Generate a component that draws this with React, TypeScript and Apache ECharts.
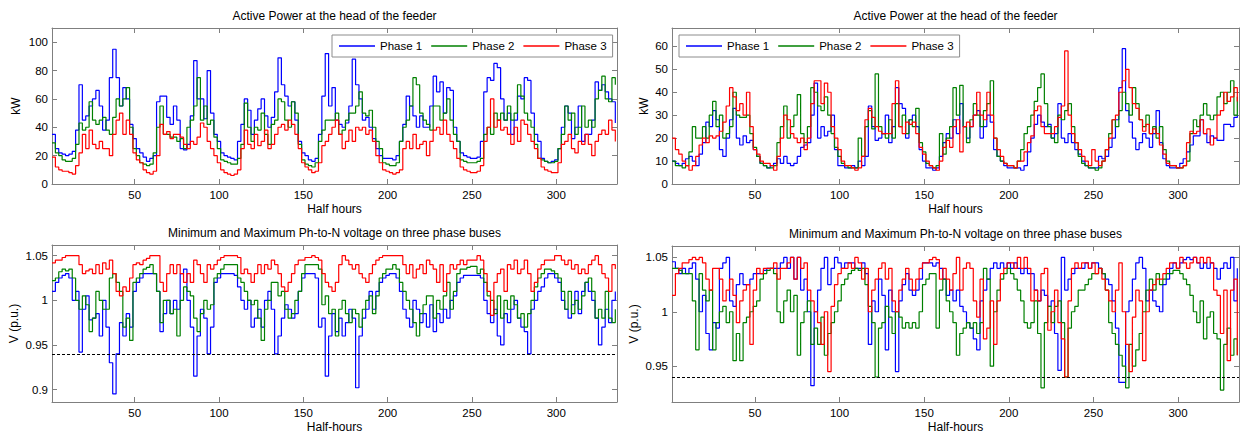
import React, { useEffect, useRef } from "react";
import * as echarts from "echarts";

// half-hour index of each sample (every second half hour)
const HALF_HOURS: number[] = Array.from({ length: 168 }, (_, i) => 2 * i + 1);

// ---- Left feeder, active power (kW)
const PL_P1 = [
  35, 25, 22, 21, 20, 21, 23, 38, 70, 45, 48, 55, 60, 66, 55, 38, 45, 75, 95, 75, 55, 68, 60, 42, 32,
  25, 22, 19, 16, 18, 20, 58, 62, 62, 47, 42, 55, 45, 25, 24, 28, 48, 87, 60, 60, 46, 80, 50, 35, 30,
  22, 20, 19, 18, 17, 30, 42, 60, 52, 35, 45, 53, 60, 48, 40, 47, 65, 89, 70, 62, 55, 58, 45, 30, 22,
  20, 17, 16, 18, 35, 62, 92, 55, 68, 45, 42, 40, 43, 55, 88, 70, 60, 45, 47, 40, 32, 25, 20, 18, 18,
  18, 17, 20, 30, 42, 62, 55, 48, 40, 48, 40, 40, 55, 76, 65, 72, 50, 68, 66, 40, 30, 22, 20, 19, 18,
  18, 19, 30, 65, 75, 73, 85, 82, 60, 45, 50, 35, 45, 62, 60, 75, 73, 50, 35, 30, 18, 16, 15, 16, 17,
  25, 40, 55, 50, 32, 40, 55, 30, 35, 35, 45, 72, 66, 70, 65, 60, 58, 43,
];
const PL_P2 = [
  29, 22, 20, 17, 16, 16, 18, 28, 43, 38, 40, 58, 45, 42, 45, 47, 38, 35, 47, 60, 55, 60, 68, 40, 25,
  20, 15, 14, 13, 14, 22, 40, 55, 35, 35, 33, 33, 30, 32, 25, 40, 45, 55, 75, 45, 55, 42, 45, 33, 25,
  17, 16, 15, 14, 14, 18, 28, 57, 40, 30, 40, 38, 50, 35, 28, 42, 45, 60, 58, 45, 40, 58, 50, 28, 17,
  14, 13, 12, 15, 30, 38, 45, 45, 45, 50, 35, 38, 45, 50, 50, 55, 65, 50, 48, 52, 40, 30, 25, 15, 14,
  13, 13, 15, 30, 40, 45, 55, 75, 70, 50, 45, 42, 38, 55, 55, 45, 50, 60, 45, 35, 30, 17, 16, 15, 15,
  15, 16, 18, 35, 40, 35, 50, 45, 50, 45, 55, 45, 50, 70, 62, 50, 45, 40, 28, 18, 17, 16, 15, 15, 16,
  25, 35, 55, 45, 50, 35, 40, 55, 40, 45, 40, 60, 66, 76, 60, 58, 75, 70,
];
const PL_P3 = [
  19, 12, 10, 9, 9, 8, 7, 13, 22, 35, 25, 38, 28, 25, 30, 25, 25, 20, 35, 45, 50, 35, 45, 35, 22,
  17, 15, 10, 8, 7, 9, 20, 42, 35, 37, 32, 35, 35, 33, 28, 25, 30, 28, 33, 43, 40, 30, 25, 20, 15,
  10, 8, 7, 6, 7, 10, 25, 38, 28, 25, 35, 27, 30, 38, 25, 28, 35, 40, 42, 38, 45, 42, 35, 25, 15,
  12, 10, 8, 9, 15, 27, 30, 35, 40, 45, 35, 25, 30, 38, 30, 40, 38, 40, 35, 38, 30, 20, 15, 10, 9,
  8, 7, 8, 10, 25, 30, 25, 35, 25, 28, 30, 20, 30, 38, 40, 35, 45, 35, 30, 25, 18, 12, 10, 9, 8,
  8, 9, 13, 30, 40, 60, 40, 45, 38, 40, 35, 28, 40, 30, 45, 42, 35, 30, 25, 18, 12, 10, 9, 8, 8,
  15, 28, 30, 35, 25, 22, 30, 28, 35, 28, 20, 30, 35, 38, 35, 45, 38, 30,
];

// ---- Right feeder, active power (kW)
const PR_P1 = [
  10, 9, 8, 9, 11, 12, 10, 8, 13, 18, 27, 25, 32, 28, 15, 12, 20, 28, 33, 20, 17, 21, 18, 19, 15,
  12, 9, 8, 7, 8, 9, 11, 9, 12, 9, 8, 9, 12, 16, 17, 18, 30, 44, 20, 25, 21, 23, 30, 15, 8,
  8, 7, 7, 8, 7, 10, 8, 12, 34, 25, 19, 20, 22, 30, 18, 25, 42, 35, 33, 20, 28, 30, 25, 15, 10,
  7, 7, 6, 7, 12, 18, 22, 20, 28, 22, 35, 25, 20, 25, 30, 32, 20, 25, 30, 27, 15, 12, 10, 8, 7,
  7, 7, 7, 6, 8, 14, 20, 26, 30, 27, 25, 26, 20, 22, 35, 20, 18, 22, 18, 15, 13, 10, 8, 7, 7,
  7, 12, 11, 12, 16, 20, 28, 42, 59, 32, 27, 20, 15, 18, 22, 20, 16, 22, 32, 18, 11, 8, 7, 7, 7,
  9, 11, 14, 17, 21, 21, 28, 22, 18, 21, 20, 19, 19, 26, 26, 25, 29, 30,
];
const PR_P2 = [
  10, 8, 8, 7, 8, 14, 25, 20, 20, 25, 20, 30, 36, 25, 30, 20, 22, 25, 40, 30, 29, 29, 30, 22, 16,
  12, 9, 8, 7, 7, 8, 18, 25, 34, 20, 25, 30, 39, 22, 18, 25, 42, 40, 34, 32, 38, 30, 22, 16, 12,
  9, 8, 7, 7, 7, 20, 12, 25, 32, 24, 48, 25, 22, 20, 28, 20, 35, 25, 30, 22, 28, 25, 33, 18, 14,
  9, 8, 7, 8, 22, 13, 20, 25, 42, 30, 43, 25, 18, 28, 35, 30, 25, 32, 35, 45, 20, 12, 10, 9, 8,
  8, 7, 10, 15, 22, 25, 30, 36, 42, 48, 35, 25, 20, 18, 30, 28, 32, 35, 25, 18, 12, 9, 8, 7, 7,
  6, 7, 10, 15, 22, 28, 25, 32, 40, 35, 30, 42, 35, 28, 25, 30, 22, 25, 20, 25, 15, 10, 8, 8, 7,
  7, 8, 10, 22, 28, 25, 30, 35, 30, 28, 30, 38, 40, 35, 40, 45, 30, 38,
];
const PR_P3 = [
  20, 15, 13, 10, 8, 6, 8, 12, 17, 20, 18, 21, 20, 21, 23, 27, 34, 42, 38, 32, 35, 30, 40, 25, 15,
  13, 10, 9, 9, 8, 6, 12, 20, 30, 28, 22, 20, 18, 20, 15, 20, 35, 45, 45, 35, 44, 40, 25, 20, 15,
  10, 8, 8, 7, 6, 7, 12, 28, 33, 29, 25, 23, 22, 22, 22, 35, 45, 25, 22, 27, 26, 27, 22, 16, 13,
  10, 8, 7, 6, 10, 16, 19, 16, 25, 28, 14, 25, 27, 25, 30, 40, 30, 28, 40, 30, 20, 15, 12, 9, 8,
  8, 7, 10, 10, 14, 18, 21, 32, 34, 25, 22, 22, 22, 25, 29, 34, 58, 30, 22, 18, 15, 12, 10, 8, 15,
  10, 8, 10, 15, 20, 28, 30, 40, 45, 50, 42, 35, 33, 28, 23, 26, 22, 24, 22, 17, 13, 9, 8, 8, 7,
  7, 8, 18, 23, 22, 23, 28, 22, 24, 17, 20, 30, 32, 40, 36, 38, 42, 36,
];

// ---- Left feeder, min / max phase-to-neutral voltage (p.u.)
const VL_P1 = [
  1.01, 1.02, 1.025, 1.028, 1.03, 1.025, 1.0, 1.01, 0.942, 0.99, 1.005, 0.978, 0.98, 0.985, 0.96, 1.0, 0.97, 0.93, 0.895, 0.94, 0.975, 0.96, 0.985, 0.97, 1.01,
  1.02, 1.025, 1.03, 1.03, 1.03, 1.03, 1.01, 0.965, 0.985, 1.0, 0.985, 1.0, 0.99, 1.03, 1.035, 1.0, 0.97, 0.915, 0.96, 0.99, 0.98, 0.94, 0.97, 1.02, 1.025,
  1.03, 1.03, 1.03, 1.03, 1.028, 1.015, 1.0, 0.99, 1.0, 0.97, 0.98, 0.99, 0.97, 1.0, 1.01, 0.99, 0.94, 0.96, 0.98, 0.995, 0.99, 0.98, 0.985, 1.01, 1.025,
  1.03, 1.03, 1.03, 1.025, 0.97, 0.98, 0.915, 0.96, 0.985, 0.965, 0.98, 0.96, 0.975, 0.99, 0.98, 0.902, 0.96, 0.98, 0.99, 1.01, 0.99, 1.01, 1.02, 1.025, 1.028,
  1.03, 1.03, 1.025, 1.01, 0.99, 0.98, 0.97, 1.0, 0.99, 0.975, 0.985, 0.97, 0.995, 0.965, 0.985, 0.975, 0.99, 0.98, 1.0, 1.005, 1.02, 1.025, 1.028, 1.028, 1.028,
  1.028, 1.028, 1.025, 1.0, 0.985, 0.975, 0.99, 0.96, 0.95, 0.985, 0.975, 0.99, 1.0, 0.98, 0.97, 0.965, 0.94, 0.99, 1.0, 1.01, 1.015, 1.025, 1.03, 1.03, 1.025,
  1.02, 1.0, 0.99, 0.98, 0.995, 1.01, 0.985, 1.01, 1.02, 1.01, 1.0, 0.98, 0.95, 0.97, 0.99, 0.975, 1.0, 1.01,
];
const VL_P2 = [
  1.022, 1.025, 1.032, 1.035, 1.033, 1.035, 1.025, 1.0, 0.99, 1.005, 0.995, 0.965, 0.98, 1.01, 1.0, 0.99, 0.99, 1.025, 1.03, 1.02, 1.01, 0.97, 0.98, 0.955, 1.02,
  1.025, 1.03, 1.035, 1.037, 1.04, 1.03, 1.01, 0.975, 1.0, 1.0, 0.985, 0.99, 0.96, 1.0, 1.015, 1.01, 1.005, 0.98, 0.965, 0.985, 1.0, 0.99, 0.995, 1.025, 1.03,
  1.035, 1.04, 1.04, 1.04, 1.04, 1.025, 1.02, 1.01, 1.0, 0.995, 1.0, 0.98, 0.955, 0.99, 1.0, 1.02, 1.02, 1.005, 1.01, 0.99, 0.98, 0.985, 1.0, 1.01, 1.03,
  1.04, 1.04, 1.04, 1.04, 1.035, 0.995, 1.005, 0.985, 0.99, 0.96, 0.99, 1.0, 0.985, 0.975, 0.99, 0.985, 0.97, 0.99, 1.0, 1.005, 0.985, 1.005, 1.025, 1.03, 1.035,
  1.035, 1.04, 1.035, 1.02, 1.01, 1.0, 0.99, 0.975, 0.96, 0.985, 0.995, 1.005, 1.005, 0.98, 1.0, 0.99, 1.005, 1.02, 0.99, 1.01, 1.03, 1.035, 1.035, 1.037, 1.038,
  1.038, 1.03, 1.035, 1.02, 1.005, 1.0, 0.985, 1.005, 0.98, 1.0, 0.99, 1.005, 0.995, 0.98, 0.985, 0.97, 0.985, 1.0, 1.015, 1.025, 1.03, 1.035, 1.035, 1.033, 1.03,
  1.025, 1.01, 0.99, 1.01, 0.985, 1.0, 0.99, 1.005, 1.02, 1.025, 1.01, 0.98, 0.99, 0.98, 1.01, 0.98, 0.975, 0.99,
];
const VL_P3 = [
  1.042, 1.045, 1.045, 1.048, 1.05, 1.05, 1.05, 1.05, 1.04, 1.03, 1.033, 1.035, 1.03, 1.04, 1.03, 1.042, 1.035, 1.045, 1.03, 1.01, 1.005, 1.015, 1.01, 1.025, 1.04,
  1.042, 1.04, 1.045, 1.047, 1.05, 1.05, 1.05, 1.02, 1.01, 1.03, 1.04, 1.03, 1.04, 1.03, 1.02, 1.03, 1.02, 1.045, 1.04, 1.03, 1.02, 1.04, 1.035, 1.04, 1.045,
  1.048, 1.05, 1.05, 1.05, 1.05, 1.048, 1.03, 1.035, 1.03, 1.02, 1.03, 1.04, 1.03, 1.04, 1.035, 1.045, 1.04, 1.03, 1.015, 1.01, 1.02, 1.03, 1.04, 1.045, 1.045,
  1.048, 1.048, 1.05, 1.048, 1.045, 1.03, 1.02, 1.015, 1.01, 1.02, 1.04, 1.05, 1.045, 1.04, 1.035, 1.04, 1.03, 1.025, 1.02, 1.03, 1.04, 1.045, 1.048, 1.05, 1.05,
  1.05, 1.05, 1.05, 1.05, 1.04, 1.03, 1.04, 1.025, 1.035, 1.04, 1.03, 1.045, 1.04, 1.035, 1.02, 1.04, 1.01, 1.03, 1.04, 1.035, 1.04, 1.045, 1.04, 1.045, 1.045,
  1.045, 1.05, 1.045, 1.03, 1.01, 0.983, 1.02, 1.03, 1.035, 1.01, 1.04, 1.035, 1.045, 1.03, 1.035, 1.045, 1.03, 1.01, 1.02, 1.035, 1.04, 1.045, 1.045, 1.045, 1.05,
  1.05, 1.045, 1.04, 1.045, 1.035, 1.04, 1.03, 1.035, 1.03, 1.04, 1.045, 1.05, 1.04, 1.03, 1.025, 1.01, 1.04, 1.035,
];

// ---- Right feeder, min / max phase-to-neutral voltage (p.u.)
const VR_P1 = [
  1.046, 1.04, 1.035, 1.04, 1.035, 1.04, 1.045, 1.03, 1.0, 1.015, 0.98, 0.965, 0.99, 0.985, 1.04, 1.045, 1.05, 1.01, 1.005, 1.025, 1.035, 1.025, 1.025, 1.03, 1.035,
  1.035, 1.035, 1.038, 1.04, 1.04, 1.04, 1.04, 1.045, 1.05, 1.04, 1.05, 1.03, 1.05, 1.02, 1.03, 1.0, 0.932, 1.0, 1.02, 1.04, 1.05, 1.025, 1.04, 1.05, 1.045,
  1.04, 1.045, 1.045, 1.045, 1.04, 1.04, 1.045, 1.035, 0.97, 1.01, 1.0, 1.03, 1.015, 0.965, 1.02, 1.0, 0.945, 1.01, 1.025, 1.035, 1.02, 1.015, 1.02, 1.03, 1.045,
  1.045, 1.045, 1.042, 1.045, 1.04, 1.03, 1.015, 1.02, 1.01, 1.02, 1.005, 1.0, 0.99, 0.985, 0.975, 0.965, 1.01, 1.02, 1.03, 1.04, 1.045, 1.04, 1.045, 1.04, 1.045,
  1.04, 1.045, 1.04, 1.035, 1.04, 1.035, 1.035, 1.02, 1.01, 1.02, 1.015, 1.005, 1.01, 0.98, 0.946, 1.05, 1.02, 1.03, 1.035, 1.04, 1.04, 1.04, 1.045, 1.04, 1.045,
  1.045, 1.04, 1.035, 1.03, 1.025, 1.01, 0.985, 0.935, 0.935, 1.0, 1.01, 1.03, 1.045, 1.05, 1.04, 1.01, 1.02, 1.01, 1.005, 1.0, 1.025, 1.03, 1.04, 1.045, 1.04,
  1.045, 1.048, 1.05, 1.048, 1.05, 1.045, 1.04, 1.045, 1.04, 1.045, 1.04, 1.03, 1.04, 1.045, 1.04, 1.05, 1.01, 1.04,
];
const VR_P2 = [
  1.04, 1.04, 1.038, 1.035, 1.035, 1.035, 1.01, 0.965, 1.035, 1.02, 1.01, 1.02, 0.965, 0.99, 1.0, 1.005, 0.99, 1.0, 0.955, 0.98, 0.955, 0.99, 0.995, 1.0, 1.005,
  1.01, 1.03, 1.035, 1.038, 1.04, 1.035, 1.0, 0.99, 1.01, 1.02, 1.0, 1.015, 0.96, 0.99, 1.0, 1.01, 0.97, 0.985, 0.97, 0.995, 0.96, 0.98, 0.99, 1.0, 1.01,
  1.025, 1.03, 1.035, 1.038, 1.04, 1.038, 1.04, 1.025, 1.005, 0.99, 0.94, 0.985, 0.99, 1.005, 0.995, 0.98, 1.0, 0.995, 0.985, 0.99, 0.985, 0.99, 0.985, 1.0, 1.025,
  1.03, 1.035, 1.035, 0.985, 1.02, 1.03, 1.01, 1.0, 0.99, 0.96, 0.98, 0.985, 0.99, 0.985, 0.99, 0.98, 0.99, 1.04, 1.03, 0.95, 1.0, 1.02, 1.03, 1.035, 1.04,
  1.035, 1.03, 1.02, 1.01, 0.99, 0.985, 0.99, 1.01, 0.98, 0.93, 0.99, 1.005, 0.99, 1.005, 1.01, 0.99, 0.94, 0.985, 1.0, 1.005, 1.02, 1.02, 1.025, 1.03, 1.035,
  1.035, 1.04, 1.035, 1.02, 0.99, 0.98, 0.97, 0.96, 0.95, 0.93, 0.97, 0.95, 0.965, 0.98, 1.0, 1.02, 1.03, 1.02, 1.035, 1.025, 1.03, 1.035, 1.035, 1.038, 1.038,
  1.035, 1.03, 1.025, 1.015, 1.0, 0.99, 1.01, 0.975, 0.995, 1.0, 0.98, 0.975, 0.928, 0.97, 0.985, 0.96, 0.975, 0.96,
];
const VR_P3 = [
  1.015, 1.035, 1.04, 1.045, 1.045, 1.048, 1.05, 1.048, 1.05, 1.045, 1.03, 1.02, 1.04, 1.04, 1.03, 1.01, 1.02, 1.03, 1.015, 0.99, 1.01, 1.02, 1.025, 0.97, 1.02,
  1.04, 1.035, 1.04, 1.04, 1.04, 1.045, 1.03, 1.04, 1.04, 1.045, 1.05, 1.03, 1.05, 1.04, 1.045, 1.02, 1.01, 1.0, 0.99, 0.97, 1.0, 0.945, 1.005, 1.025, 1.035,
  1.04, 1.04, 1.045, 1.04, 1.05, 1.045, 1.03, 1.04, 1.0, 1.02, 1.03, 1.04, 1.045, 1.03, 1.04, 1.01, 1.0, 1.02, 1.03, 1.04, 1.03, 1.02, 1.03, 1.04, 1.045,
  1.045, 1.048, 1.05, 1.048, 1.03, 1.04, 1.03, 1.02, 1.035, 1.05, 1.02, 1.04, 1.045, 1.04, 1.01, 0.995, 1.03, 0.975, 0.985, 1.01, 0.97, 1.01, 1.035, 1.04, 1.045,
  1.045, 1.04, 1.05, 1.04, 1.05, 1.04, 1.01, 1.02, 1.01, 1.035, 1.04, 0.983, 1.0, 1.02, 0.99, 0.975, 0.94, 1.01, 1.04, 1.045, 1.04, 1.045, 1.045, 1.04, 1.045,
  1.035, 1.04, 1.03, 1.02, 1.01, 1.0, 1.02, 1.045, 1.0, 0.97, 0.945, 0.995, 1.02, 1.01, 0.955, 1.0, 1.02, 1.025, 1.03, 1.03, 1.035, 1.04, 1.045, 1.045, 1.04,
  1.05, 1.045, 1.04, 1.045, 1.05, 1.045, 1.05, 1.045, 1.05, 1.045, 1.02, 1.015, 0.98, 1.02, 0.955, 1.02, 1.03, 0.96,
];

const PHASE_NAMES = ["Phase 1", "Phase 2", "Phase 3"];
const PHASE_COLORS = ["#0000ff", "#008000", "#ff0000"];
const X_TICKS = [50, 100, 150, 200, 250, 300];
const KW_TICKS_LEFT = [0, 20, 40, 60, 80, 100];
const KW_TICKS_RIGHT = [0, 10, 20, 30, 40, 50, 60];
const V_TICKS_LEFT = [0.9, 0.95, 1, 1.05];
const V_TICKS_RIGHT = [0.95, 1, 1.05];
const V_LIMIT = 0.94;
const TITLE_POWER = "Active Power at the head of the feeder";
const TITLE_VOLT = "Minimum and Maximum Ph-to-N voltage on three phase buses";

const FONT = "'Liberation Sans', Arial, Helvetica, sans-serif";
const AXIS_COLOR = "#7f7f7f";

type Panel = {
  grid: { left: number; top: number; width: number; height: number };
  ymin: number;
  ymax: number;
  yticks: number[];
  yname: string;
  ynameGap: number;
  xname: string;
  title: string;
  series: number[][];
  limit: boolean;
};

const PANELS: Panel[] = [
  { grid: { left: 52, top: 28, width: 565, height: 156 }, ymin: 0, ymax: 110, yticks: KW_TICKS_LEFT, yname: "kW", ynameGap: 30, xname: "Half hours", title: TITLE_POWER, series: [PL_P1, PL_P2, PL_P3], limit: false },
  { grid: { left: 672, top: 28, width: 567, height: 156 }, ymin: 0, ymax: 68, yticks: KW_TICKS_RIGHT, yname: "kW", ynameGap: 22, xname: "Half hours", title: TITLE_POWER, series: [PR_P1, PR_P2, PR_P3], limit: false },
  { grid: { left: 52, top: 245, width: 565, height: 157 }, ymin: 0.886, ymax: 1.062, yticks: V_TICKS_LEFT, yname: "V (p.u.)", ynameGap: 32, xname: "Half-hours", title: TITLE_VOLT, series: [VL_P1, VL_P2, VL_P3], limit: true },
  { grid: { left: 672, top: 246, width: 567, height: 156 }, ymin: 0.917, ymax: 1.0605, yticks: V_TICKS_RIGHT, yname: "V (p.u.)", ynameGap: 32, xname: "Half-hours", title: TITLE_VOLT, series: [VR_P1, VR_P2, VR_P3], limit: true },
];

function buildOption() {
  const grids: any[] = [];
  const xAxes: any[] = [];
  const yAxes: any[] = [];
  const series: any[] = [];
  const graphics: any[] = [];

  PANELS.forEach((p, gi) => {
    grids.push({ ...p.grid, containLabel: false, show: false });
    const tickStyle = { show: true, inside: true, length: 5, lineStyle: { color: AXIS_COLOR, width: 1 } };
    const lineStyle = { show: true, onZero: false, lineStyle: { color: AXIS_COLOR, width: 1 } };
    xAxes.push({
      type: "value", gridIndex: gi, min: 1, max: 336, position: "bottom",
      axisLine: lineStyle,
      axisTick: { ...tickStyle, customValues: X_TICKS },
      axisLabel: { customValues: X_TICKS, color: "#000", fontSize: 11.5, fontFamily: FONT, margin: 5 },
      splitLine: { show: false },
      name: p.xname, nameLocation: "middle", nameGap: 19,
      nameTextStyle: { color: "#000", fontSize: 12, fontFamily: FONT },
    });
    xAxes.push({
      type: "value", gridIndex: gi, min: 1, max: 336, position: "top",
      axisLine: lineStyle,
      axisTick: { ...tickStyle, customValues: X_TICKS },
      axisLabel: { show: false },
      splitLine: { show: false },
    });
    yAxes.push({
      type: "value", gridIndex: gi, min: p.ymin, max: p.ymax, position: "left",
      axisLine: lineStyle,
      axisTick: { ...tickStyle, customValues: p.yticks },
      axisLabel: { customValues: p.yticks, color: "#000", fontSize: 11.5, fontFamily: FONT, margin: 4 },
      splitLine: { show: false },
      name: p.yname, nameLocation: "middle", nameGap: p.ynameGap,
      nameTextStyle: { color: "#000", fontSize: 12, fontFamily: FONT },
    });
    yAxes.push({
      type: "value", gridIndex: gi, min: p.ymin, max: p.ymax, position: "right",
      axisLine: lineStyle,
      axisTick: { ...tickStyle, customValues: p.yticks },
      axisLabel: { show: false },
      splitLine: { show: false },
    });

    p.series.forEach((vals, si) => {
      const s: any = {
        type: "line",
        name: PHASE_NAMES[si],
        xAxisIndex: gi * 2,
        yAxisIndex: gi * 2,
        step: "end",
        symbol: "none",
        showSymbol: false,
        data: vals.map((v, i) => [HALF_HOURS[i], v]),
        lineStyle: { color: PHASE_COLORS[si], width: 1.2 },
        itemStyle: { color: PHASE_COLORS[si] },
        color: PHASE_COLORS[si],
        clip: true,
        z: 2 + si,
      };
      if (p.limit && si === 2) {
        s.markLine = {
          silent: true,
          symbol: ["none", "none"],
          label: { show: false },
          lineStyle: { color: "#000", type: [3, 2], width: 1 },
          data: [{ yAxis: V_LIMIT }],
        };
      }
      series.push(s);
    });

    graphics.push({
      type: "text",
      x: p.grid.left + p.grid.width / 2,
      y: p.grid.top - 12.5,
      style: { text: p.title, fill: "#000", fontSize: 12, fontFamily: FONT, align: "center", verticalAlign: "middle" },
    });
  });

  const legendBase = {
    orient: "horizontal",
    top: 35,
    icon: "rect",
    itemWidth: 36,
    itemHeight: 1.3,
    itemGap: 9,
    padding: [5, 6, 5, 7],
    borderColor: "#8c8c8c",
    borderWidth: 1,
    backgroundColor: "#ffffff",
    textStyle: { color: "#000", fontSize: 11.5, fontFamily: FONT },
    data: PHASE_NAMES,
    selectedMode: false,
  };

  return {
    animation: false,
    backgroundColor: "#ffffff",
    textStyle: { fontFamily: FONT },
    grid: grids,
    xAxis: xAxes,
    yAxis: yAxes,
    series,
    legend: [
      { ...legendBase, left: 332 },
      { ...legendBase, left: 679 },
    ],
    graphic: graphics,
  };
}

export default function App() {
  const ref = useRef<HTMLDivElement>(null);
  useEffect(() => {
    if (!ref.current) return;
    const chart = echarts.init(ref.current, undefined, { renderer: "svg" });
    chart.setOption(buildOption() as any);
    return () => chart.dispose();
  }, []);
  return (
    <div
      ref={ref}
      style={{ position: "fixed", left: 0, top: 0, width: 1245, height: 437, background: "#fff" }}
    />
  );
}
